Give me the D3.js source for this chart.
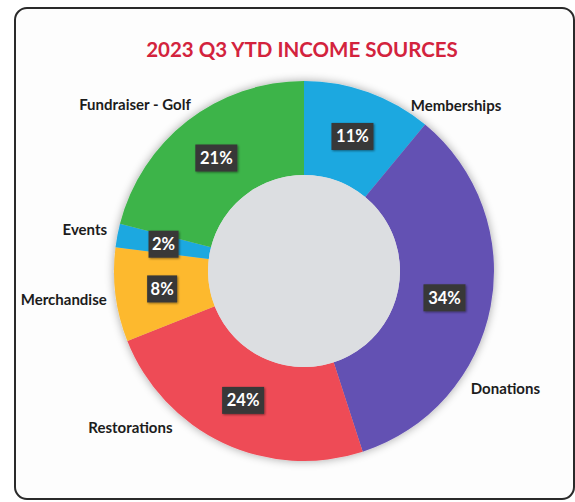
<!DOCTYPE html>
<html>
<head>
<meta charset="utf-8">
<script src="https://cdn.jsdelivr.net/npm/d3@7"></script>
<style>
  body { margin: 0; background: #ffffff; }
  text { font-family: Lato, "Open Sans", sans-serif; font-weight: bold; }
</style>
</head>
<body>
<div id="chart"></div>
<script>
// chart data
var categories = ['Memberships', 'Donations', 'Restorations', 'Merchandise', 'Events', 'Fundraiser - Golf'];
var shares = [11, 34, 24, 8, 2, 21];
var sliceColors = ['#1ca8e0', '#6451b3', '#ee4b57', '#fdb92f', '#1ca8e0', '#3cb449'];
var title = '2023 Q3 YTD INCOME SOURCES';

// layout
var width = 575, height = 502;
var cx = 304, cy = 271;
var outerR = 190, innerR = 96;
// where each category name sits (angle in degrees from 12 o'clock, radius)
var nameSpots = {
  'Memberships': [42.5, 225],
  'Donations': [120.2, 233],
  'Restorations': [227.9, 234],
  'Merchandise': [263.1, 242],
  'Events': [280.6, 223],
  'Fundraiser - Golf': [314.5, 237]
};

var svg = d3.select('#chart').append('svg')
  .attr('width', width)
  .attr('height', height);

var defs = svg.append('defs');
var glow = defs.append('filter').attr('id', 'glow')
  .attr('x', '-20%').attr('y', '-20%').attr('width', '140%').attr('height', '140%');
glow.append('feGaussianBlur').attr('in', 'SourceAlpha').attr('stdDeviation', 5);
glow.append('feComponentTransfer').append('feFuncA').attr('type', 'linear').attr('slope', 0.35);
var m = glow.append('feMerge');
m.append('feMergeNode');
m.append('feMergeNode').attr('in', 'SourceGraphic');

var boxShadow = defs.append('filter').attr('id', 'boxShadow')
  .attr('x', '-30%').attr('y', '-30%').attr('width', '160%').attr('height', '160%');
boxShadow.append('feDropShadow').attr('dx', 1).attr('dy', 1).attr('stdDeviation', 1.2)
  .attr('flood-color', '#000').attr('flood-opacity', 0.45);

// frame
svg.append('rect')
  .attr('x', 15).attr('y', 8)
  .attr('width', 559).attr('height', 491)
  .attr('rx', 12)
  .attr('fill', '#fdfdfd')
  .attr('stroke', '#2a2a2a')
  .attr('stroke-width', 2);

// title
svg.append('text')
  .attr('x', 302).attr('y', 57)
  .attr('text-anchor', 'middle')
  .attr('font-size', 20.5)
  .attr('fill', '#d3233d')
  .text(title);

var data = categories.map(function(c, i) {
  return { name: c, value: shares[i], color: sliceColors[i] };
});

var pie = d3.pie().sort(null).value(function(d) { return d.value; });
var arcs = pie(data);

var arc = d3.arc().innerRadius(innerR).outerRadius(outerR);
var midArc = d3.arc().innerRadius((innerR + outerR) / 2).outerRadius((innerR + outerR) / 2);

var g = svg.append('g').attr('transform', 'translate(' + cx + ',' + cy + ')');

// donut ring with soft shadow
var ring = g.append('g').attr('filter', 'url(#glow)');
ring.selectAll('path')
  .data(arcs)
  .enter()
  .append('path')
  .attr('d', arc)
  .attr('fill', function(d) { return d.data.color; });

// grey hole
g.append('circle')
  .attr('r', innerR)
  .attr('fill', '#dcdee1');

// percent boxes
var pct = g.selectAll('.pct')
  .data(arcs)
  .enter()
  .append('g')
  .attr('class', 'pct')
  .attr('transform', function(d) {
    var c = midArc.centroid(d);
    return 'translate(' + c[0] + ',' + c[1] + ')';
  });

pct.append('rect')
  .attr('x', function(d) { return d.data.value >= 10 ? -21 : -15; })
  .attr('y', -13.5)
  .attr('width', function(d) { return d.data.value >= 10 ? 42 : 30; })
  .attr('height', 27)
  .attr('fill', '#383838')
  .attr('filter', 'url(#boxShadow)');

pct.append('text')
  .attr('text-anchor', 'middle')
  .attr('dy', '0.36em')
  .attr('font-size', 16.5)
  .attr('fill', '#ffffff')
  .text(function(d) { return d.data.value + '%'; });

// category names
g.selectAll('.name')
  .data(arcs)
  .enter()
  .append('text')
  .attr('class', 'name')
  .attr('text-anchor', 'middle')
  .attr('dy', '0.36em')
  .attr('font-size', 15)
  .attr('fill', '#1c1c1c')
  .attr('x', function(d) {
    var s = nameSpots[d.data.name];
    return s[1] * Math.sin(s[0] * Math.PI / 180);
  })
  .attr('y', function(d) {
    var s = nameSpots[d.data.name];
    return -s[1] * Math.cos(s[0] * Math.PI / 180);
  })
  .text(function(d) { return d.data.name; });
</script>
</body>
</html>
